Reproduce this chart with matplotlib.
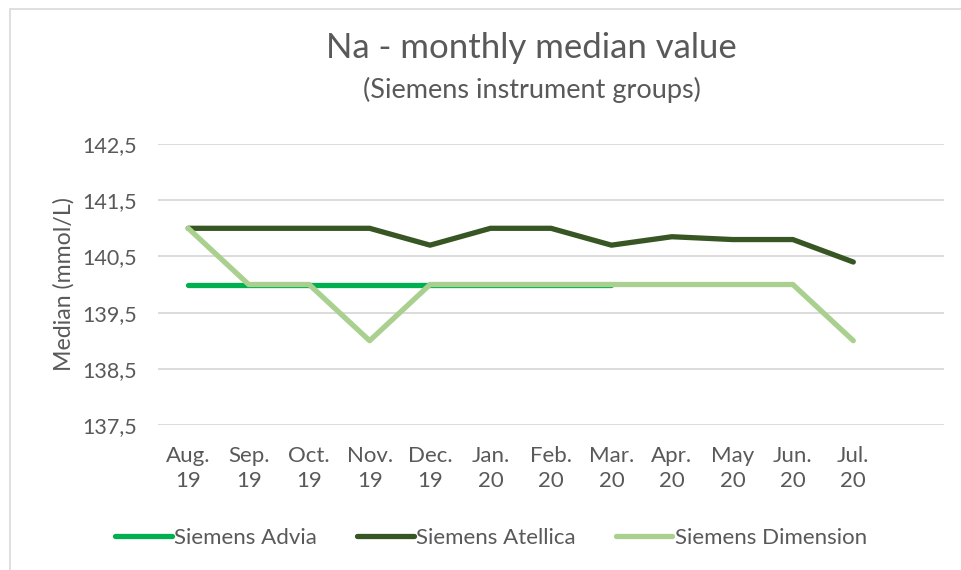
import matplotlib
matplotlib.use("Agg")
import matplotlib.pyplot as plt
from matplotlib.patches import Rectangle

plt.rcParams['font.family'] = ['Lato', 'DejaVu Sans']

months = ["Aug.\n19", "Sep.\n19", "Oct.\n19", "Nov.\n19", "Dec.\n19", "Jan.\n20",
          "Feb.\n20", "Mar.\n20", "Apr.\n20", "May\n20", "Jun.\n20", "Jul.\n20"]
advia = [140.0, 140.0, 140.0, 140.0, 140.0, 140.0, 140.0, 140.0]
atellica = [141.0, 141.0, 141.0, 141.0, 140.7, 141.0, 141.0, 140.7, 140.85, 140.8, 140.8, 140.4]
dimension = [141.0, 140.0, 140.0, 139.0, 140.0, 140.0, 140.0, 140.0, 140.0, 140.0, 140.0, 139.0]
yticks = [137.5, 138.5, 139.5, 140.5, 141.5, 142.5]
ytick_labels = ["137,5", "138,5", "139,5", "140,5", "141,5", "142,5"]

W, H = 961, 570
fig = plt.figure(figsize=(W / 100, H / 100), dpi=100)
ax = fig.add_axes([158 / W, 1 - 425 / H, (944 - 158) / W, (425 - 144) / H])

txt = '#595959'
lw = 3.8
ax.plot(range(len(advia)), advia, color='#00B050', lw=lw, solid_capstyle='round',
        solid_joinstyle='round', label='Siemens Advia', zorder=3)
ax.plot(range(len(atellica)), atellica, color='#375623', lw=lw, solid_capstyle='round',
        solid_joinstyle='round', label='Siemens Atellica', zorder=3)
ax.plot(range(len(dimension)), dimension, color='#A9D08E', lw=lw, solid_capstyle='round',
        solid_joinstyle='round', label='Siemens Dimension', zorder=4)

ax.set_xlim(-0.5, len(months) + 0.5)
ax.set_ylim(137.5, 142.5)
ax.set_yticks(yticks)
ax.set_yticklabels(ytick_labels)
ax.set_xticks(range(len(months)))
ax.set_xticklabels(months, linespacing=1.3)
ax.tick_params(axis='both', length=0, labelsize=15.5, colors=txt)
ax.tick_params(axis='x', labelsize=16)
ax.tick_params(axis='y', pad=15)
ax.tick_params(axis='x', pad=15)
ax.grid(axis='y', color='#D9D9D9', lw=1.3)
ax.set_axisbelow(True)
for s in ax.spines.values():
    s.set_visible(False)

ax.set_ylabel("Median (mmol/L)", fontsize=16.7, color=txt, labelpad=6)

fig.text(531 / W, 1 - 48 / H, "Na - monthly median value", ha='center', va='center',
         fontsize=25, color=txt)
fig.text(532 / W, 1 - 90 / H, "(Siemens instrument groups)", ha='center', va='center',
         fontsize=19.5, color=txt)

leg = fig.legend(loc='center', bbox_to_anchor=(491 / W, 1 - 538 / H), ncol=3, frameon=False,
                 fontsize=16, handlelength=2.55, handletextpad=0.1, columnspacing=1.8,
                 labelcolor=txt)

fig.patches.append(Rectangle((10 / W, -0.1), 1.2, (1 - 9 / H) + 0.1, transform=fig.transFigure,
                             fill=False, edgecolor='#D9D9D9', lw=1.2, zorder=0))

fig.savefig("out.png", dpi=100)
